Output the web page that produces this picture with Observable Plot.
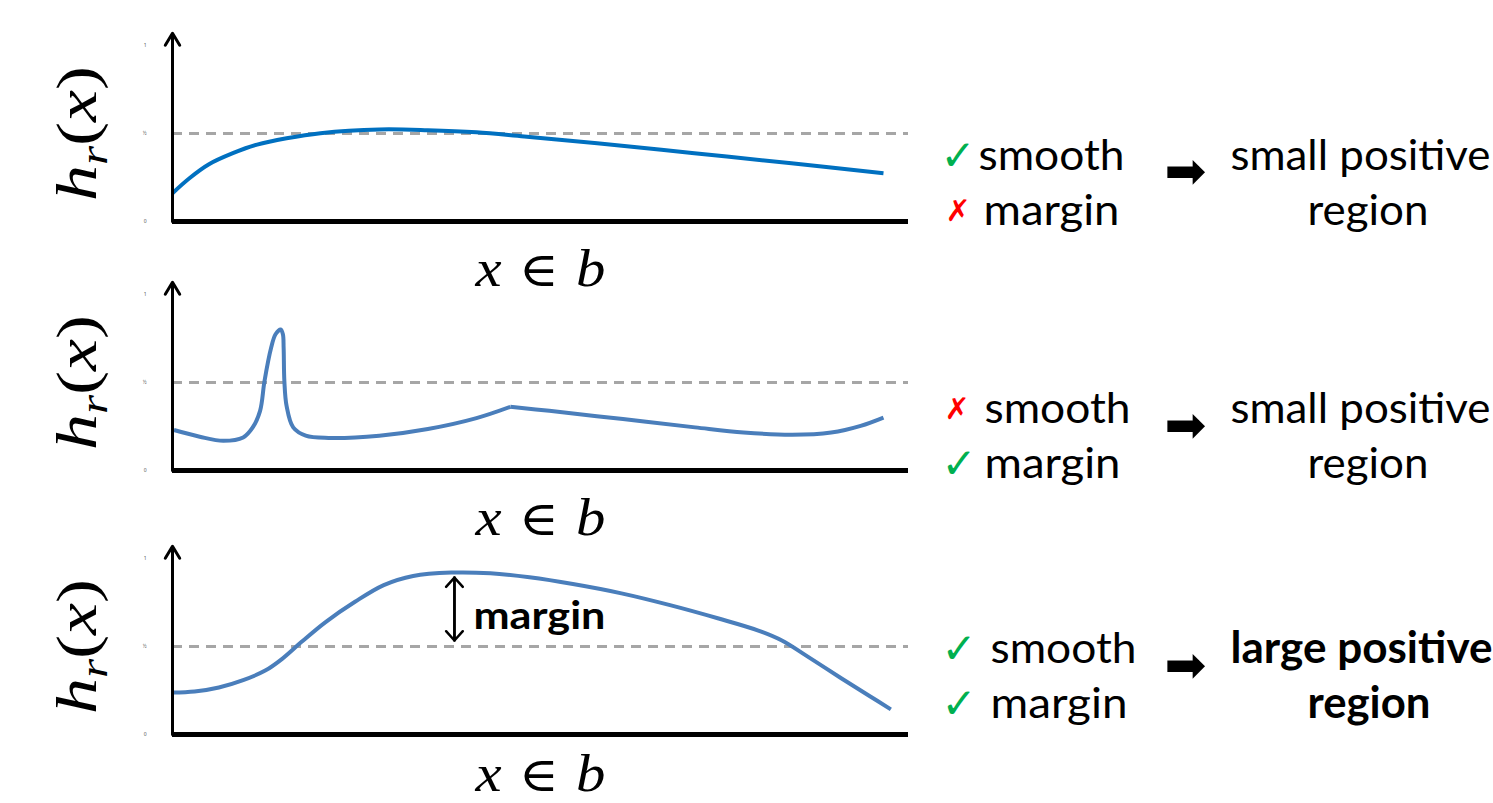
<!DOCTYPE html>
<html>
<head>
<meta charset="utf-8">
<script src="https://cdn.jsdelivr.net/npm/d3@7"></script>
<script src="https://cdn.jsdelivr.net/npm/@observablehq/plot@0.6"></script>
<style>
  html, body { margin: 0; padding: 0; background: #fff; }
  #root { position: relative; width: 1493px; height: 803px; overflow: hidden; background: #fff; }
  .panel { position: absolute; left: 0; }
</style>
</head>
<body>
<div id="root"></div>
<script>
// Response h_r(x) of a region over a bin b (x normalised to [0, 1]).
// seg marks the pieces of a curve that meet at a corner.
const smoothX = [0.000, 0.023, 0.049, 0.082, 0.115, 0.155, 0.201, 0.281, 0.347, 0.413, 0.478, 0.577, 0.709, 0.841, 0.966];
const smoothY = [0.161, 0.246, 0.324, 0.388, 0.437, 0.473, 0.502, 0.523, 0.519, 0.507, 0.483, 0.445, 0.388, 0.331, 0.274];
const smoothSeg = [0, 0, 0, 0, 0, 0, 0, 0, 0, 0, 0, 0, 0, 0, 0];

const spikyX = [0.002, 0.037, 0.069, 0.096, 0.109, 0.119, 0.125, 0.134, 0.140, 0.147, 0.150, 0.151, 0.152, 0.155, 0.164, 0.181, 0.212, 0.281, 0.347, 0.413, 0.459, 0.459, 0.512, 0.612, 0.710, 0.776, 0.842, 0.895, 0.935, 0.966];
const spikyY = [0.230, 0.192, 0.169, 0.188, 0.245, 0.339, 0.508, 0.697, 0.774, 0.801, 0.774, 0.697, 0.508, 0.367, 0.245, 0.198, 0.185, 0.198, 0.236, 0.298, 0.362, 0.362, 0.339, 0.292, 0.245, 0.216, 0.203, 0.216, 0.254, 0.301];
const spikySeg = [0, 0, 0, 0, 0, 0, 0, 0, 0, 0, 0, 0, 0, 0, 0, 0, 0, 0, 0, 0, 0, 1, 1, 1, 1, 1, 1, 1, 1, 1];

const wideX = [0.000, 0.030, 0.063, 0.096, 0.126, 0.149, 0.175, 0.208, 0.248, 0.287, 0.327, 0.379, 0.432, 0.485, 0.544, 0.610, 0.676, 0.742, 0.795, 0.828, 0.861, 0.907, 0.947, 0.976];
const wideY = [0.238, 0.244, 0.267, 0.309, 0.363, 0.430, 0.525, 0.639, 0.754, 0.849, 0.901, 0.920, 0.916, 0.893, 0.855, 0.802, 0.735, 0.659, 0.592, 0.534, 0.448, 0.324, 0.219, 0.143];
const wideSeg = [0, 0, 0, 0, 0, 0, 0, 0, 0, 0, 0, 0, 0, 0, 0, 0, 0, 0, 0, 0, 0, 0, 0, 0];

// Decision threshold and the y tick labels
const threshold = 0.5;
const tickValues = [0, 0.5, 1];
const tickLabels = ["0", "½", "1"];

// Axis titles
const yTitle = "hr(x)";
const xTitle = "x ∈ b";

// Criteria checked for each region, and the resulting verdict
const criteria = ["smooth", "margin"];
const verdicts = [[true, false], [false, true], [true, true]];
const outcomes = [["small positive", "region"], ["small positive", "region"], ["large positive", "region"]];
const marginLabel = "margin";

// Page layout of the three stacked panels
const W = 1493, left = 172, right = 908, frameTop = 45, frameBottom = 221;
const layout = [
  {top: 0,   color: "#0070C0", base: [169, 224], markX: [940, 945], wordX: [978, 983], arrowBase: 187, titleDy: 64},
  {top: 249, color: "#4A7EBB", base: [422, 477], markX: [944, 941], wordX: [984, 984], arrowBase: 441, titleDy: 64},
  {top: 513, color: "#4A7EBB", base: [662, 717], markX: [941, 941], wordX: [990, 990], arrowBase: 681, titleDy: 56}
];
const series = [[smoothX, smoothY, smoothSeg], [spikyX, spikyY, spikySeg], [wideX, wideY, wideSeg]];
const wordWidth = {smooth: 146, margin: 136};
const outcomeX = [1230, 1307];
const outcomeWidth = [[260, 121], [260, 121], [262, 123]];

const root = document.getElementById("root");

function note(text, x, base, top, opts) {
  return Plot.text([text], {
    text: d => d,
    frameAnchor: "top-left",
    dx: x - left,
    dy: base - top - frameTop,
    textAnchor: "start",
    lineAnchor: "bottom",
    fontFamily: opts.font || "Lato",
    fontSize: opts.size || 43,
    fontWeight: opts.bold ? "bold" : "normal",
    fill: opts.color || "black"
  });
}

series.forEach(([xs, ys, segs], k) => {
  const L = layout[k];
  const pts = xs.map((x, i) => ({x, y: ys[i], seg: segs[i]}));
  const good = verdicts[k].every(v => v);
  const marks = [
    Plot.axisY(tickValues, {tickFormat: d => tickLabels[tickValues.indexOf(d)], tickSize: 0, tickPadding: 26, fontSize: 5, fill: "#555", label: null}),
    Plot.ruleY([threshold], {x1: 0, x2: 1, stroke: "#A6A6A6", strokeWidth: 3, strokeDasharray: "10,7"}),
    Plot.line(pts, {x: "x", y: "y", z: "seg", stroke: L.color, strokeWidth: 4, curve: "catmull-rom", strokeLinecap: "butt"}),
    Plot.arrow([0], {x1: 0, y1: 0, x2: 0, y2: 1.07, stroke: "black", strokeWidth: 3, headLength: 7, headAngle: 62}),
    Plot.ruleY([0], {x1: 0, x2: 1, stroke: "black", strokeWidth: 5}),
    Plot.text([yTitle], {text: d => d, frameAnchor: "left", dx: -94, rotate: -90, textAnchor: "middle", lineAnchor: "middle", fontFamily: "Liberation Serif", fontSize: 56}),
    Plot.text([xTitle], {text: d => d, frameAnchor: "bottom", dy: L.titleDy, textAnchor: "middle", lineAnchor: "bottom", fontFamily: "Liberation Serif", fontSize: 52})
  ];

  if (good) {
    // margin between the peak response and the threshold
    let pi = 0;
    ys.forEach((v, i) => { if (v > ys[pi]) pi = i; });
    const px = xs[pi], py = ys[pi];
    marks.push(
      Plot.arrow([0], {x1: px, y1: threshold, x2: px, y2: py, dx: 3, insetStart: 6, insetEnd: 5, stroke: "black", strokeWidth: 2.5, headLength: 7.5, headAngle: 84}),
      Plot.arrow([0], {x1: px, y1: py, x2: px, y2: threshold, dx: 3, insetStart: 5, insetEnd: 6, stroke: "black", strokeWidth: 2.5, headLength: 7.5, headAngle: 84}),
      Plot.text([marginLabel], {text: d => d, x: px, y: (threshold + py) / 2, dx: 22, dy: 7, textAnchor: "start", fontFamily: "Lato", fontWeight: "bold", fontSize: 39})
    );
  }

  // criteria with check / cross marks
  criteria.forEach((c, j) => {
    const ok = verdicts[k][j];
    marks.push(note(ok ? "✓" : "✗", L.markX[j], L.base[j] - (ok ? 0 : 4), L.top,
      {font: "DejaVu Sans", size: ok ? 42 : 30, bold: !ok, color: ok ? "#00B050" : "#FF0000"}));
    marks.push(note(c, L.wordX[j], L.base[j], L.top, {}));
  });
  marks.push(note("➡", 1164, L.arrowBase, L.top, {font: "DejaVu Sans", size: 50}));
  outcomes[k].forEach((o, j) => {
    marks.push(note(o, outcomeX[j], L.base[j], L.top, {bold: good}));
  });

  const svg = Plot.plot({
    width: W, height: 290,
    marginLeft: left, marginRight: W - right, marginTop: frameTop, marginBottom: 290 - frameBottom,
    x: {domain: [0, 1], axis: null},
    y: {domain: [0, 1], axis: null},
    style: {background: "transparent", overflow: "visible"},
    marks
  });

  const sel = d3.select(svg);
  // stretch words to their measured widths
  const used = new Set();
  function fit(content, width) {
    sel.selectAll("text").filter(function () { return this.textContent === content && !used.has(this); })
      .filter((d, i) => i === 0)
      .each(function () { used.add(this); d3.select(this).attr("textLength", width).attr("lengthAdjust", "spacingAndGlyphs"); });
  }
  criteria.forEach(c => fit(c, wordWidth[c] - (k === 2 && c === "margin" ? 4 : 0)));
  outcomes[k].forEach((o, j) => fit(o, outcomeWidth[k][j]));
  if (good) fit(marginLabel, 137);

  // math-style axis titles
  sel.selectAll("text").filter(function () { return this.textContent === yTitle; }).each(function () {
    const t = d3.select(this).text(null).attr("textLength", 135).attr("lengthAdjust", "spacingAndGlyphs");
    t.append("tspan").attr("font-style", "italic").text("h");
    t.append("tspan").attr("font-style", "italic").attr("font-size", "0.68em").attr("dy", "0.28em").text("r");
    t.append("tspan").attr("dy", "-0.19em").text("(");
    t.append("tspan").attr("font-style", "italic").text("x");
    t.append("tspan").text(")");
  });
  sel.selectAll("text").filter(function () { return this.textContent === xTitle; }).each(function () {
    const t = d3.select(this).text(null).attr("textLength", 130).attr("lengthAdjust", "spacingAndGlyphs");
    t.append("tspan").attr("font-style", "italic").text("x");
    t.append("tspan").attr("font-family", "DejaVu Serif").attr("font-size", "0.92em").text(" ∈ ");
    t.append("tspan").attr("font-style", "italic").text("b");
  });

  const holder = document.createElement("div");
  holder.className = "panel";
  holder.style.top = L.top + "px";
  holder.appendChild(svg);
  root.appendChild(holder);
});
</script>
</body>
</html>
